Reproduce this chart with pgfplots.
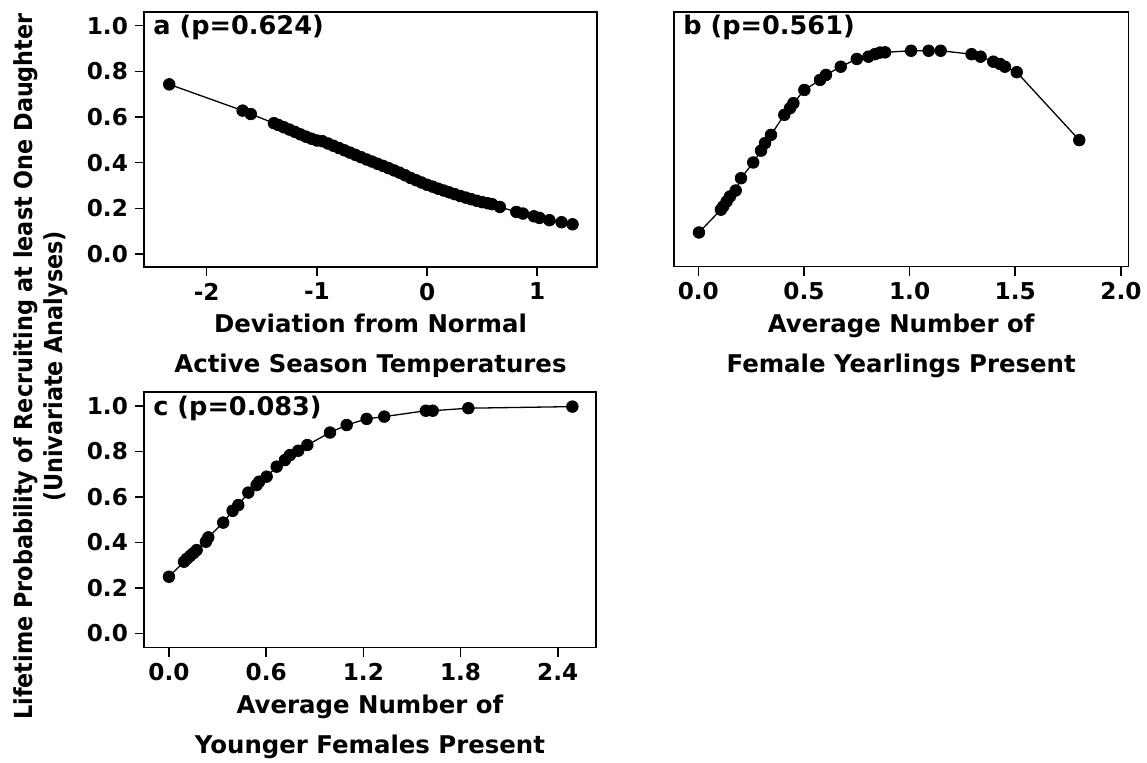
\documentclass[border=0pt]{standalone}
\usepackage{fontspec}
\setmainfont{DejaVu Sans}
\newfontfamily\ylabfont{DejaVu Sans Condensed}
\usepackage{pgfplots}
\pgfplotsset{compat=1.18}
\pgfplotsset{
  myax/.style={
    scale only axis,
    anchor=south west,
    axis line style={line width=0.8pt},
    major tick style={line width=0.8pt, black},
    major tick length=4.5pt,
    tick align=outside,
    xtick pos=lower, ytick pos=left,
    ticklabel style={font=\bfseries\fontsize{11.6}{13}\selectfont},
    /pgf/number format/assume math mode=true,
    xlabel style={font=\bfseries\fontsize{12.2}{19.8}\selectfont, align=center},
    ymin=-0.057, ymax=1.06,
    ytick={0,0.2,0.4,0.6,0.8,1.0},
    yticklabel style={/pgf/number format/fixed, /pgf/number format/fixed zerofill, /pgf/number format/precision=1},
  },
  dots/.style={black, line width=0.65pt, mark=*, mark size=2.9pt, mark options={fill=black, draw=black, line width=0.4pt}}
}
\tikzset{plab/.style={anchor=base west, xshift=4.5pt, yshift=-11.5pt, inner sep=0pt, font=\bfseries\fontsize{12.8}{14}\selectfont}}
\begin{document}
\begin{tikzpicture}
\useasboundingbox (0,0) rectangle (573.5pt,381.5pt);
% panel a
\begin{axis}[myax, at={(72pt,248pt)}, width=226.5pt, height=127.5pt,
  xmin=-2.569, xmax=1.542, xtick={-2,-1,0,1},
  xlabel={Deviation from Normal\\Active Season Temperatures}]
\addplot[dots] coordinates {
(-2.34,0.743) (-1.674,0.628) (-1.60,0.613) (-1.39,0.573) (-1.35,0.565) (-1.30,0.555)
(-1.25,0.545) (-1.20,0.535) (-1.15,0.524) (-1.10,0.514) (-1.05,0.505) (-1.00,0.497)
(-0.95,0.494) (-0.90,0.484) (-0.85,0.474) (-0.80,0.464) (-0.75,0.454) (-0.70,0.444)
(-0.65,0.434) (-0.60,0.424) (-0.55,0.414) (-0.50,0.405) (-0.45,0.395) (-0.40,0.386)
(-0.35,0.376) (-0.30,0.366) (-0.25,0.356) (-0.20,0.345) (-0.15,0.333) (-0.10,0.323)
(-0.05,0.313) (0.00,0.303) (0.05,0.295) (0.10,0.286) (0.15,0.278) (0.20,0.270)
(0.25,0.262) (0.30,0.254) (0.35,0.247) (0.40,0.240) (0.45,0.233) (0.50,0.227)
(0.55,0.222) (0.59,0.218) (0.66,0.206) (0.81,0.184) (0.87,0.177) (0.97,0.165)
(1.02,0.158) (1.11,0.148) (1.22,0.139) (1.32,0.130)
};
\node[plab] at (rel axis cs:0,1) {a (p=0.624)};
\end{axis}
% panel b
\begin{axis}[myax, at={(337pt,248.15pt)}, width=227.15pt, height=127.35pt,
  xmin=-0.115, xmax=2.035, xtick={0,0.5,1.0,1.5,2.0}, ytick=\empty,
  xticklabel style={/pgf/number format/fixed, /pgf/number format/fixed zerofill, /pgf/number format/precision=1},
  xlabel={Average Number of\\Female Yearlings Present}]
\addplot[dots] coordinates {
(0.003,0.093) (0.107,0.193) (0.118,0.207) (0.134,0.229) (0.150,0.251) (0.177,0.277)
(0.202,0.331) (0.260,0.400) (0.297,0.452) (0.316,0.485) (0.344,0.521) (0.407,0.609)
(0.434,0.638) (0.450,0.660) (0.502,0.718) (0.576,0.762) (0.604,0.784) (0.674,0.820)
(0.750,0.854) (0.805,0.864) (0.836,0.875) (0.860,0.882) (0.884,0.883) (1.007,0.890)
(1.090,0.890) (1.147,0.890) (1.293,0.875) (1.336,0.864) (1.396,0.842) (1.428,0.832)
(1.451,0.820) (1.507,0.796) (1.803,0.498)
};
\node[plab] at (rel axis cs:0,1) {b (p=0.561)};
\end{axis}
% panel c
\begin{axis}[myax, at={(72pt,57.65pt)}, width=226pt, height=127.7pt,
  xmin=-0.154, xmax=2.636, ymin=-0.063, xtick={0,0.6,1.2,1.8,2.4},
  xticklabel style={/pgf/number format/fixed, /pgf/number format/fixed zerofill, /pgf/number format/precision=1},
  xlabel={Average Number of\\Younger Females Present}]
\addplot[dots] coordinates {
(0.000,0.249) (0.093,0.315) (0.109,0.327) (0.130,0.340) (0.150,0.352) (0.171,0.366)
(0.228,0.403) (0.243,0.422) (0.335,0.487) (0.393,0.539) (0.428,0.564) (0.490,0.619)
(0.541,0.652) (0.557,0.667) (0.603,0.689) (0.665,0.733) (0.716,0.762) (0.747,0.784)
(0.798,0.803) (0.854,0.828) (0.994,0.883) (1.097,0.916) (1.220,0.943) (1.329,0.953)
(1.586,0.979) (1.628,0.979) (1.848,0.990) (2.490,0.997)
};
\node[plab] at (rel axis cs:0,1) {c (p=0.083)};
\end{axis}
\node[rotate=90, align=center, inner sep=0pt, font=\ylabfont\bfseries\fontsize{12.4}{15}\selectfont] at (20.5pt,198.25pt)
  {Lifetime Probability of Recruiting at least One Daughter\\(Univariate Analyses)};
\end{tikzpicture}
\end{document}
